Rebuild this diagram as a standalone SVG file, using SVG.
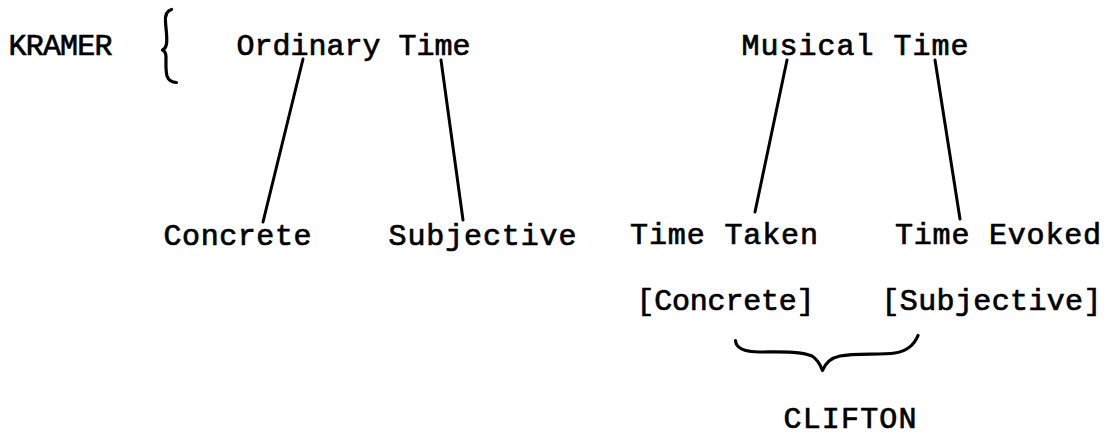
<svg xmlns="http://www.w3.org/2000/svg" width="1114" height="435" viewBox="0 0 1114 435">
  <style>
    .t { font-family: "Liberation Mono", "Courier New", monospace; font-size: 30px; fill: #000; stroke: #000; stroke-width: 0.7; }
    .ln { stroke: #000; stroke-width: 3; stroke-linecap: round; fill: none; }
    .br { stroke: #000; stroke-width: 3.2; stroke-linecap: round; stroke-linejoin: round; fill: none; }
  </style>
  <rect width="1114" height="435" fill="#fff"/>

  <!-- tree branches -->
  <g id="connectors">
    <line class="ln" x1="303" y1="59" x2="263" y2="222"/>
    <line class="ln" x1="441" y1="60" x2="463" y2="220"/>
    <line class="ln" x1="787" y1="60" x2="755" y2="212"/>
    <line class="ln" x1="935" y1="60" x2="960" y2="219"/>
  </g>

  <g id="kramer">
    <text class="t" x="8.5" y="55" textLength="104" lengthAdjust="spacing">KRAMER</text>
    <path class="br" d="M171.5 9.5 C166 11 165 16 165.5 22 C166 30 167.5 38 166.5 44 C166 47 164.5 49 162.5 50 C164.5 51 166 53 166 57 C166 63 165.5 70 167 76 C168.5 80 172 82.5 176.5 82.5"/>
  </g>

  <g id="ordinary-time">
    <text class="t" x="236.5" y="55">Ordinary Time</text>
  </g>

  <g id="musical-time">
    <text class="t" x="741.5" y="55" textLength="227" lengthAdjust="spacing">Musical Time</text>
  </g>

  <g id="concrete">
    <text class="t" x="163.5" y="245" textLength="148" lengthAdjust="spacing">Concrete</text>
  </g>

  <g id="subjective">
    <text class="t" x="388.5" y="245" textLength="188" lengthAdjust="spacing">Subjective</text>
  </g>

  <g id="time-taken">
    <text class="t" x="630" y="244" textLength="188" lengthAdjust="spacing">Time Taken</text>
    <text class="t" x="636.5" y="310" textLength="178" lengthAdjust="spacing">[Concrete]</text>
  </g>

  <g id="time-evoked">
    <text class="t" x="895" y="244" textLength="206" lengthAdjust="spacing">Time Evoked</text>
    <text class="t" x="881.5" y="310" textLength="220" lengthAdjust="spacing">[Subjective]</text>
  </g>

  <g id="clifton">
    <path class="br" d="M735.5 340.5 C736 349 745 352 760 352 C780 352 800 351 812 356 C817 359 820 364 822.5 370.5 C825 364 830 358 840 356 C855 353 880 355 895 353 C908 351 915 343 918 335.5"/>
    <text class="t" x="783.5" y="428" textLength="133" lengthAdjust="spacing">CLIFTON</text>
  </g>
</svg>
